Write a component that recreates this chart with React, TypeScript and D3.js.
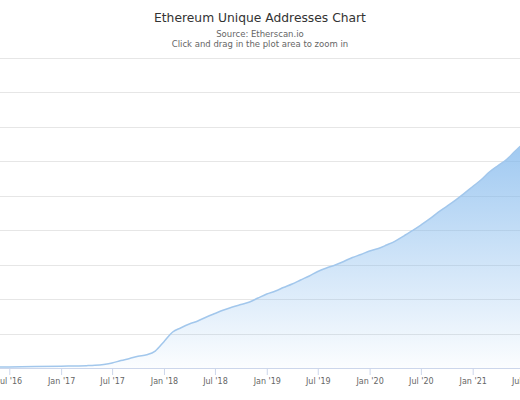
import { useEffect, useRef } from 'react'
import * as d3 from 'd3'

// monthly reading of the cumulative unique addresses (millions)
const months = [
  '2015-08', '2016-01', '2016-07', '2016-10', '2017-01', '2017-04', '2017-05', '2017-06',
  '2017-07', '2017-08', '2017-09', '2017-10', '2017-11', '2017-12',
  '2018-01', '2018-02', '2018-03', '2018-04', '2018-05', '2018-06',
  '2018-07', '2018-08', '2018-09', '2018-10', '2018-11', '2018-12',
  '2019-01', '2019-02', '2019-03', '2019-04', '2019-05', '2019-06',
  '2019-07', '2019-08', '2019-09', '2019-10', '2019-11', '2019-12',
  '2020-01', '2020-02', '2020-03', '2020-04', '2020-05', '2020-06',
  '2020-07', '2020-08', '2020-09', '2020-10', '2020-11', '2020-12',
  '2021-01', '2021-02', '2021-03', '2021-04', '2021-05', '2021-06', '2021-07'
]
const addresses = [
  0, 0.2, 0.8, 1.0, 1.3, 1.7, 2.0, 2.6,
  3.6, 5.4, 6.9, 8.5, 9.6, 12.3,
  19.1, 26.1, 29.0, 31.9, 34.1, 37.0,
  39.5, 42.0, 44.2, 46.0, 47.8, 50.7,
  53.6, 55.8, 58.3, 60.9, 63.8, 66.7,
  69.9, 72.5, 74.6, 77.2, 80.1, 82.2,
  84.8, 86.6, 89.1, 92.0, 95.6, 99.6,
  103.6, 108.0, 113.0, 117.2, 121.7, 126.4,
  131.5, 136.6, 142.0, 146.7, 151.0, 157.2, 163.0
]
const yTicks = [0, 25, 50, 75, 100, 125, 150, 175, 200, 225]

const title = 'Ethereum Unique Addresses Chart'
const subtitle = 'Source: Etherscan.io'
const hint = 'Click and drag in the plot area to zoom in'

const W = 520
const H = 400
const font = '"DejaVu Sans", sans-serif'

export default function App() {
  const svgRef = useRef<SVGSVGElement>(null)

  useEffect(() => {
    if (!svgRef.current) return
    const svg = d3.select(svgRef.current)
    svg.selectAll('*').remove()

    const parse = d3.timeParse('%Y-%m')
    const data = months.map((m, i) => ({ date: parse(m) as Date, value: addresses[i] }))

    const x = d3.scaleTime()
      .domain([new Date(2016, 6, 1), new Date(2021, 0, 1)])
      .range([9.3, 472.7])
    const y = d3.scaleLinear().domain([0, 225]).range([368, 57.5])

    const defs = svg.append('defs')
    const grad = defs.append('linearGradient')
      .attr('id', 'areaFill')
      .attr('gradientUnits', 'userSpaceOnUse')
      .attr('x1', 0).attr('y1', y(225)).attr('x2', 0).attr('y2', y(0))
    grad.append('stop').attr('offset', '0%').attr('stop-color', '#7cb5ec').attr('stop-opacity', 1)
    grad.append('stop').attr('offset', '100%').attr('stop-color', '#7cb5ec').attr('stop-opacity', 0.03)

    // titles
    svg.append('text').attr('x', 260).attr('y', 22).attr('text-anchor', 'middle')
      .attr('font-family', font).attr('font-size', 12.3).attr('fill', '#333333').text(title)
    svg.append('text').attr('x', 260).attr('y', 36.5).attr('text-anchor', 'middle')
      .attr('font-family', font).attr('font-size', 8.5).attr('fill', '#666666').text(subtitle)
    svg.append('text').attr('x', 260).attr('y', 47).attr('text-anchor', 'middle')
      .attr('font-family', font).attr('font-size', 8.5).attr('fill', '#666666').text(hint)

    // grid lines
    svg.append('g')
      .selectAll('line')
      .data(yTicks.slice(1))
      .join('line')
      .attr('x1', 0).attr('x2', W)
      .attr('y1', d => Math.round(y(d)) + 0.5)
      .attr('y2', d => Math.round(y(d)) + 0.5)
      .attr('stroke', '#e6e6e6')
      .attr('stroke-width', 1)

    // area + line
    const area = d3.area<{ date: Date; value: number }>()
      .x(d => x(d.date))
      .y0(y(0))
      .y1(d => y(d.value))
      .curve(d3.curveMonotoneX)
    const line = d3.line<{ date: Date; value: number }>()
      .x(d => x(d.date))
      .y(d => y(d.value))
      .curve(d3.curveMonotoneX)

    svg.append('path').datum(data).attr('d', area).attr('fill', 'url(#areaFill)')
    svg.append('path').datum(data).attr('d', line)
      .attr('fill', 'none').attr('stroke', '#a2c7ec').attr('stroke-width', 1.5)

    // x axis
    const tickDates = d3.timeMonth.every(6)!.range(new Date(2016, 6, 1), new Date(2021, 7, 1))
    const xAxis = d3.axisBottom(x)
      .tickValues(tickDates)
      .tickSize(7)
      .tickFormat(d => d3.timeFormat("%b '%y")(d as Date))
    const gx = svg.append('g')
      .attr('transform', `translate(0,${y(0)})`)
      .call(xAxis)
    gx.select('.domain').remove()
    gx.selectAll('.tick line').attr('stroke', '#ccd6eb')
    gx.selectAll('.tick text')
      .attr('font-family', font).attr('font-size', 8).attr('fill', '#666666').attr('dy', '1em').attr('y', 8)
    gx.insert('line', ':first-child')
      .attr('x1', 0).attr('x2', W).attr('y1', 0.5).attr('y2', 0.5)
      .attr('stroke', '#ccd6eb')
  }, [])

  return (
    <svg
      ref={svgRef}
      width={W}
      height={H}
      style={{ position: 'absolute', left: 0, top: 0, background: '#ffffff' }}
    />
  )
}
